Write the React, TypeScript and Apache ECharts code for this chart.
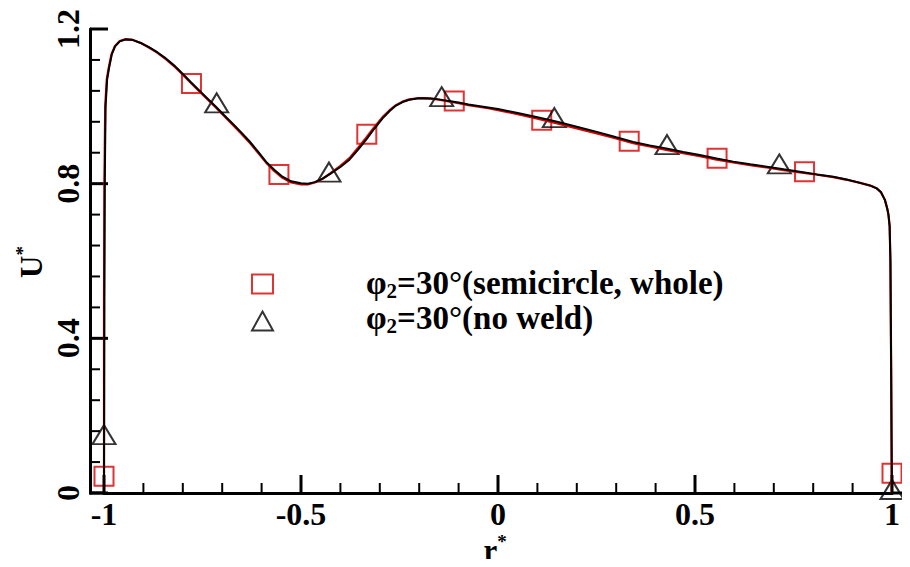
import React, { useEffect, useRef } from "react";
import * as echarts from "echarts";

const FONT = "Liberation Serif";
const RED = "#d80000";

// Velocity profile curves [r*, U*]
const blackCurve: number[][] = [
  [-1.0, 0.0], [-0.999, 0.5], [-0.998, 0.8], [-0.996, 1.0], [-0.992, 1.07], [-0.987, 1.1],
  [-0.98, 1.135], [-0.972, 1.155], [-0.96, 1.168], [-0.945, 1.173], [-0.928, 1.172],
  [-0.905, 1.163], [-0.886, 1.153], [-0.865, 1.14], [-0.843, 1.124], [-0.82, 1.104],
  [-0.801, 1.085], [-0.78, 1.063], [-0.759, 1.042], [-0.737, 1.02], [-0.716, 0.999],
  [-0.695, 0.977], [-0.674, 0.956], [-0.653, 0.934], [-0.632, 0.911], [-0.61, 0.884],
  [-0.589, 0.857], [-0.568, 0.836], [-0.547, 0.818], [-0.525, 0.806], [-0.5, 0.801],
  [-0.483, 0.8], [-0.465, 0.804], [-0.445, 0.813], [-0.425, 0.826], [-0.4, 0.843],
  [-0.377, 0.862], [-0.355, 0.888], [-0.335, 0.913], [-0.314, 0.942], [-0.293, 0.969],
  [-0.275, 0.988], [-0.259, 1.002], [-0.24, 1.012], [-0.225, 1.017], [-0.205, 1.02],
  [-0.19, 1.021], [-0.17, 1.02], [-0.15, 1.018], [-0.125, 1.014], [-0.1, 1.01],
  [-0.075, 1.005], [-0.05, 1.001], [-0.025, 0.997], [0.0, 0.993], [0.05, 0.983],
  [0.1, 0.972], [0.15, 0.96], [0.2, 0.947], [0.258, 0.932], [0.3, 0.92], [0.343, 0.908],
  [0.385, 0.899], [0.427, 0.891], [0.47, 0.882], [0.512, 0.874], [0.555, 0.865],
  [0.597, 0.857], [0.64, 0.85], [0.682, 0.844], [0.725, 0.837], [0.766, 0.831],
  [0.81, 0.824], [0.851, 0.818], [0.885, 0.811], [0.919, 0.802], [0.945, 0.795],
  [0.961, 0.788], [0.972, 0.778], [0.982, 0.758], [0.988, 0.735], [0.991, 0.72],
  [0.994, 0.69], [0.996, 0.6], [0.998, 0.3], [1.0, 0.0],
];

const redCurve: number[][] = [
  [-1.0, 0.0], [-1.0, 0.5], [-0.999, 0.8], [-0.997, 1.0], [-0.993, 1.07], [-0.988, 1.1],
  [-0.981, 1.135], [-0.972, 1.156], [-0.96, 1.169], [-0.945, 1.174], [-0.928, 1.172],
  [-0.905, 1.163], [-0.886, 1.152], [-0.865, 1.139], [-0.843, 1.122], [-0.82, 1.102],
  [-0.801, 1.083], [-0.78, 1.061], [-0.759, 1.04], [-0.737, 1.018], [-0.716, 0.997],
  [-0.695, 0.975], [-0.674, 0.953], [-0.653, 0.931], [-0.632, 0.908], [-0.61, 0.881],
  [-0.589, 0.855], [-0.568, 0.833], [-0.547, 0.815], [-0.525, 0.803], [-0.5, 0.798],
  [-0.483, 0.798], [-0.465, 0.803], [-0.445, 0.813], [-0.425, 0.827], [-0.4, 0.846],
  [-0.377, 0.866], [-0.355, 0.893], [-0.335, 0.918], [-0.314, 0.946], [-0.293, 0.972],
  [-0.275, 0.99], [-0.259, 1.003], [-0.24, 1.013], [-0.225, 1.018], [-0.205, 1.021],
  [-0.19, 1.021], [-0.17, 1.02], [-0.15, 1.017], [-0.125, 1.013], [-0.1, 1.008],
  [-0.075, 1.003], [-0.05, 0.999], [-0.025, 0.995], [0.0, 0.99], [0.05, 0.98],
  [0.1, 0.968], [0.15, 0.956], [0.2, 0.943], [0.258, 0.928], [0.3, 0.917], [0.343, 0.905],
  [0.385, 0.896], [0.427, 0.887], [0.47, 0.879], [0.512, 0.871], [0.555, 0.862],
  [0.597, 0.855], [0.64, 0.848], [0.682, 0.842], [0.725, 0.835], [0.766, 0.829],
  [0.81, 0.823], [0.851, 0.817], [0.885, 0.81], [0.919, 0.802], [0.945, 0.795],
  [0.961, 0.788], [0.972, 0.778], [0.982, 0.758], [0.988, 0.735], [0.991, 0.72],
  [0.994, 0.69], [0.996, 0.6], [0.998, 0.3], [0.999, 0.0],
];

// Markers
const squareX = [-1.0, -0.778, -0.556, -0.333, -0.111, 0.111, 0.333, 0.556, 0.778, 1.0];
const squareY = [0.043, 1.059, 0.824, 0.928, 1.014, 0.964, 0.91, 0.866, 0.831, 0.051];
const triangleX = [-1.0, -0.714, -0.429, -0.143, 0.143, 0.429, 0.714, 1.0];
const triangleY = [0.151, 1.009, 0.83, 1.025, 0.971, 0.901, 0.851, 0.009];

// Tick positions
const xMajorTicks = [-1, -0.5, 0, 0.5, 1];
const xMinorTicks = [-0.9, -0.8, -0.7, -0.6, -0.4, -0.3, -0.2, -0.1, 0.1, 0.2, 0.3, 0.4, 0.6, 0.7, 0.8, 0.9];
const yMajorTicks = [0, 0.4, 0.8, 1.2];
const yMinorTicks = [0.08, 0.16, 0.24, 0.32, 0.48, 0.56, 0.64, 0.72, 0.88, 0.96, 1.04, 1.12];

const seriesNames = ["semicircle, whole", "no weld"];
const legendLabels = ["=30°(semicircle, whole)", "=30°(no weld)"];

export default function App() {
  const ref = useRef<HTMLDivElement>(null);
  useEffect(() => {
    if (!ref.current) return;
    const chart = echarts.init(ref.current, null, { renderer: "svg" });
    const legendRich = {
      p: { fontFamily: FONT, fontWeight: "bold", fontSize: 33, color: "#000" },
      s: { fontFamily: FONT, fontWeight: "bold", fontSize: 21, color: "#000", verticalAlign: "bottom", padding: [16, 0, 0, 0] },
      t: { fontFamily: FONT, fontWeight: "bold", fontSize: 33, color: "#000" },
    };
    const supRich = (main: string) => ({
      [main]: { fontFamily: FONT, fontWeight: "bold", fontSize: 31, color: "#000" },
      s: { fontFamily: FONT, fontWeight: "bold", fontSize: 19, color: "#000", verticalAlign: "top", padding: [0, 0, 17, 0] },
    });
    const seg = (x1: number, y1: number, x2: number, y2: number, w: number) => ({
      type: "line", shape: { x1, y1, x2, y2 }, style: { stroke: "#000", lineWidth: w },
    });
    const option: any = {
      animation: false,
      backgroundColor: "#fff",
      grid: { left: 104, right: 18, top: 29, bottom: 74, outerBoundsMode: "none", containLabel: false },
      legend: {
        orient: "vertical", left: 251, top: 273.5, padding: 0,
        itemWidth: 21, itemHeight: 19, itemGap: 16, selectedMode: false,
        data: [
          { name: seriesNames[0], icon: "rect", itemStyle: { color: "rgba(0,0,0,0)", borderColor: RED, borderWidth: 2 } },
          { name: seriesNames[1], icon: "triangle", itemStyle: { color: "rgba(0,0,0,0)", borderColor: "#000", borderWidth: 2 } },
        ],
        formatter: () => " ",
        textStyle: { fontSize: 10, lineHeight: 10, color: "#fff" },
      },
      xAxis: {
        type: "value", min: -1, max: 1, interval: 0.5,
        axisLine: { show: true, onZero: false, lineStyle: { color: "#000", width: 3 } },
        axisTick: { show: false },
        splitLine: { show: false },
        axisLabel: { fontFamily: FONT, fontWeight: "bold", fontSize: 32, color: "#000", margin: 5 },
      },
      yAxis: {
        type: "value", min: 0, max: 1.2, interval: 0.4, offset: 14,
        axisLine: { show: true, onZero: false, lineStyle: { color: "#000", width: 3 } },
        axisTick: { show: false },
        splitLine: { show: false },
        axisLabel: { fontFamily: FONT, fontWeight: "bold", fontSize: 32, color: "#000", rotate: 90, margin: 6 },
      },
      series: [
        {
          type: "custom", silent: true, z: 3, clip: false, data: [[0, 0]],
          renderItem: (_params: any, api: any) => {
            const yBase = api.coord([0, 0])[1];
            const xMinPx = api.coord([-1, 0])[0];
            const xMaxPx = api.coord([1, 0])[0];
            const xLeft = xMinPx - 14;
            const children: any[] = [
              seg(xLeft - 1, yBase, xMinPx, yBase, 3),
              seg(xMaxPx, yBase, xMaxPx + 18, yBase, 3),
            ];
            xMajorTicks.forEach((v) => { const x = api.coord([v, 0])[0]; children.push(seg(x, yBase, x, yBase - 18, 3)); });
            xMinorTicks.forEach((v) => { const x = api.coord([v, 0])[0]; children.push(seg(x, yBase, x, yBase - 10, 2)); });
            yMajorTicks.forEach((v) => { const y = api.coord([-1, v])[1]; children.push(seg(xLeft, y, xLeft + 18, y, 3)); });
            yMinorTicks.forEach((v) => { const y = api.coord([-1, v])[1]; children.push(seg(xLeft, y, xLeft + 10, y, 2)); });
            return { type: "group", children };
          },
        },
        {
          type: "line", name: "red curve", data: redCurve, showSymbol: false,
          lineStyle: { color: RED, width: 2.2 },
        },
        {
          type: "scatter", name: seriesNames[0],
          data: squareX.map((x, i) => [x, squareY[i]]),
          symbol: "rect", symbolSize: 19,
          itemStyle: { color: "rgba(0,0,0,0)", borderColor: RED, borderWidth: 2 },
        },
        {
          type: "line", name: "black curve", data: blackCurve, showSymbol: false,
          lineStyle: { color: "#000", width: 2 },
        },
        {
          type: "scatter", name: seriesNames[1],
          data: triangleX.map((x, i) => [x, triangleY[i]]),
          symbol: "triangle", symbolSize: [23, 19],
          itemStyle: { color: "rgba(0,0,0,0)", borderColor: "#000", borderWidth: 2 },
        },
      ],
      graphic: [
        ...legendLabels.map((lbl, i) => ({
          type: "text", x: 366, y: 283 + i * 35,
          style: { text: `{p|φ}{s|2}{t|${lbl}}`, rich: legendRich, fontFamily: FONT, fontWeight: "bold", verticalAlign: "middle" },
        })),
        {
          type: "text", x: 31, y: 262, rotation: Math.PI / 2,
          style: { text: "{u|U}{s|*}", rich: supRich("u"), fontFamily: FONT, fontWeight: "bold", align: "center", verticalAlign: "middle" },
        },
        {
          type: "text", x: 495, y: 550,
          style: { text: "{r|r}{s|*}", rich: supRich("r"), fontFamily: FONT, fontWeight: "bold", align: "center", verticalAlign: "middle" },
        },
      ],
    };
    chart.setOption(option);
    return () => chart.dispose();
  }, []);
  return <div ref={ref} style={{ width: 910, height: 567, margin: -8 }} />;
}
